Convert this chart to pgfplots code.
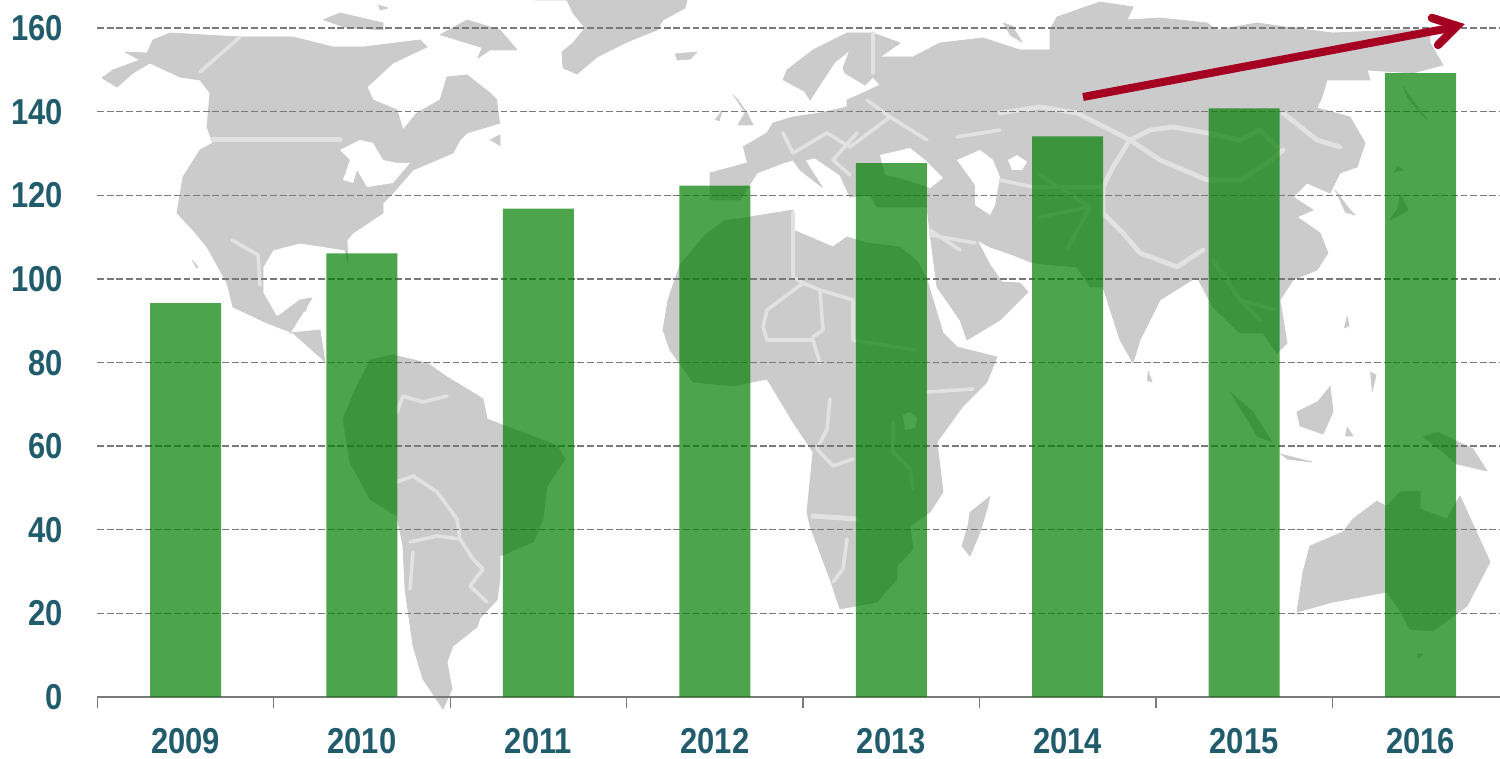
\documentclass[border=0pt]{standalone}
\usepackage{pgfplots}
\pgfplotsset{compat=1.18}
\usepackage{fontspec}
\setmainfont{Liberation Sans}
\newfontfamily\labfont[FakeStretch=0.86]{Liberation Sans Bold}
\definecolor{land}{HTML}{CBCBCB}
\definecolor{bord}{HTML}{E2E2E2}
\definecolor{labc}{HTML}{215C6C}
\definecolor{barc}{HTML}{007F00}
\definecolor{gridc}{HTML}{7A7A7A}
\definecolor{arrowc}{HTML}{A50021}
\pgfplotsset{
  pxaxis/.style={at={(0pt,0pt)},anchor=south west,width=750pt,height=379.5pt,scale only axis,
    xmin=0,xmax=1500,ymin=0,ymax=759,y dir=reverse,hide axis,clip=true},
  L/.style={fill=land,draw=land,line width=0.4pt,line join=round},
  W/.style={fill=white,draw=none},
  B/.style={draw=bord,line width=#1,line join=round,line cap=round,no markers},
  B/.default=1.8pt
}
\begin{document}
\begin{tikzpicture}
\path[use as bounding box] (0,0) rectangle (750pt,379.5pt);
% world map, in pixel coordinates of the picture
\begin{axis}[pxaxis]
% North America
\addplot[L] coordinates {(500,123)(467,133)(460,140)(453,153)(413,170)(393,193)(383,203)(383,213)(353,233)(347,240)(348,263)(345,250)(300,243)(273,250)(263,267)(263,293)(277,317)(300,300)(312,298)(300,317)(290,333)(320,330)(325,362)(320,357)(293,333)(267,323)(233,307)(227,283)(207,247)(193,230)(177,213)(183,177)(200,150)(213,143)(207,127)(210,93)(200,80)(180,77)(150,63)(133,73)(117,87)(102,78)(113,70)(140,60)(125,52)(147,53)(153,40)(170,33)(240,37)(293,37)(333,47)(363,47)(420,40)(427,47)(393,63)(367,87)(373,100)(397,110)(403,130)(417,113)(440,100)(447,77)(467,75)(490,93)(497,100)};
\addplot[W] coordinates {(340,150)(360,140)(373,143)(383,160)(397,163)(410,163)(393,183)(367,187)(357,170)(353,183)(343,180)(350,160)};
\addplot[L] coordinates {(323,20)(340,13)(383,23)(383,30)(343,27)};
\addplot[L] coordinates {(440,35)(467,20)(500,30)(517,50)(490,50)(478,58)(482,48)};
\addplot[L] coordinates {(490,140)(500,135)(500,146)};
\addplot[L] coordinates {(378,5)(388,8)(380,10)};
\addplot[L] coordinates {(300,307)(310,298)(305,312)};
\addplot[L] coordinates {(192,260)(198,267)(196,268)};
% Greenland, Iceland, British Isles
\addplot[L] coordinates {(535,0)(567,0)(573,13)(585,28)(573,43)(562,52)(563,68)(577,74)(597,57)(627,42)(657,30)(663,20)(685,8)(687,0)};
\addplot[L] coordinates {(675,54)(697,52)(690,59)(677,60)};
\addplot[L] coordinates {(733,95)(738,100)(747,113)(753,125)(738,125)(745,113)};
\addplot[L] coordinates {(715,120)(722,111)(719,121)};
% Scandinavia
\addplot[L] coordinates {(783,80)(787,70)(813,50)(847,33)(873,33)(900,43)(880,57)(873,77)(865,85)(845,73)(843,68)(850,50)(835,62)(823,80)(810,100)(805,92)};
% Eurasia
\addplot[L] coordinates {(743,147)(767,133)(773,123)(793,117)(820,113)(847,107)(847,100)(863,93)(880,85)(873,77)(880,57)(913,57)(940,43)(983,38)(1020,50)(1050,50)(1050,30)(1057,17)(1100,2)(1133,7)(1127,20)(1160,18)(1207,23)(1217,30)(1257,23)(1293,28)(1333,33)(1400,30)(1430,30)(1430,43)(1443,65)(1413,73)(1367,70)(1370,80)(1327,80)(1322,97)(1317,108)(1350,117)(1365,143)(1357,167)(1340,173)(1330,193)(1307,183)(1293,197)(1313,210)(1297,217)(1320,233)(1328,253)(1317,270)(1293,280)(1280,300)(1287,343)(1277,353)(1263,333)(1240,333)(1213,307)(1197,277)(1187,283)(1160,300)(1140,340)(1133,363)(1120,340)(1103,287)(1090,287)(1077,267)(1033,263)(1013,255)(990,247)(977,240)(990,265)(1002,282)(1020,283)(1028,292)(1000,320)(967,340)(960,320)(937,287)(930,233)(927,207)(877,207)(870,195)(850,197)(840,175)(815,158)(805,160)(822,187)(800,170)(793,160)(783,163)(757,173)(740,200)(710,200)(710,173)(747,163)};
\addplot[L] coordinates {(1003,23)(1012,26)(1022,42)(1010,35)};
\addplot[L] coordinates {(1335,190)(1350,210)(1355,215)(1345,212)};
\addplot[W] coordinates {(880,155)(910,148)(925,160)(943,178)(930,188)(900,178)(885,175)};
\addplot[W] coordinates {(957,160)(980,150)(993,160)(1000,177)(995,205)(990,215)(975,205)(975,185)};
\addplot[W] coordinates {(1008,160)(1017,155)(1027,162)(1022,170)(1012,170)};
% Africa
\addplot[L] coordinates {(750,217)(793,210)(793,230)(833,247)(847,237)(867,243)(900,247)(918,262)(927,280)(943,333)(957,347)(997,357)(987,382)(963,406)(937,442)(943,492)(930,512)(910,526)(913,549)(897,566)(897,579)(877,602)(840,609)(830,579)(810,526)(807,512)(813,452)(793,422)(767,379)(733,386)(693,382)(670,350)(663,330)(668,300)(680,265)(705,235)(725,220)};
\addplot[L] coordinates {(990,496)(987,509)(980,532)(970,556)(962,546)(968,526)(970,512)};
% South America
\addplot[L] coordinates {(360,379)(343,419)(350,462)(370,499)(397,516)(403,546)(405,589)(413,646)(423,679)(443,709)(452,689)(447,662)(453,646)(477,627)(480,618)(497,600)(500,579)(500,556)(533,542)(543,519)(547,486)(565,459)(557,446)(540,439)(513,429)(487,419)(483,399)(467,389)(447,377)(427,363)(393,355)(370,360)};
% Oceania and Asian islands
\addplot[L] coordinates {(1377,501)(1353,519)(1343,532)(1310,546)(1303,572)(1297,612)(1333,602)(1387,592)(1397,606)(1410,629)(1433,631)(1467,606)(1490,562)(1460,496)(1447,519)(1420,509)(1420,491)(1400,492)(1387,506)};
\addplot[L] coordinates {(1423,437)(1437,432)(1473,449)(1487,471)(1457,464)(1443,452)};
\addplot[L] coordinates {(1330,386)(1333,412)(1323,434)(1300,426)(1297,412)(1317,402)};
\addplot[L] coordinates {(1347,427)(1353,436)(1345,436)};
\addplot[L] coordinates {(1230,392)(1253,412)(1272,442)(1257,436)};
\addplot[L] coordinates {(1280,454)(1312,462)(1287,459)};
\addplot[L] coordinates {(1417,654)(1423,654)(1418,659)};
\addplot[L] coordinates {(1397,166)(1403,170)(1394,172)};
\addplot[L] coordinates {(1400,193)(1408,210)(1390,220)(1397,210)};
\addplot[L] coordinates {(1403,87)(1427,120)(1407,97)};
\addplot[L] coordinates {(1347,316)(1349,326)(1344,328)};
\addplot[L] coordinates {(1148,371)(1152,382)(1147,380)};
\addplot[L] coordinates {(1370,372)(1376,375)(1372,392)};
% Borders
\addplot[B=2.5pt] coordinates {(213,140)(340,140)};
\addplot[B] coordinates {(240,37)(200,72)};
\addplot[B] coordinates {(232,240)(258,255)(260,285)};
\addplot[B] coordinates {(793,213)(793,277)(803,283)(820,290)(853,300)};
\addplot[B] coordinates {(803,283)(767,310)(763,327)(767,340)(813,340)(820,363)};
\addplot[B] coordinates {(820,290)(823,330)(813,337)};
\addplot[B] coordinates {(853,300)(853,340)(915,350)};
\addplot[B] coordinates {(830,399)(827,429)(817,449)(833,466)(853,459)};
\addplot[B=2.5pt] coordinates {(813,516)(857,519)};
\addplot[B] coordinates {(847,539)(843,569)(833,582)};
\addplot[B] coordinates {(893,422)(893,452)(910,469)(913,489)};
\addplot[B] coordinates {(927,392)(973,389)};
\addplot[B] coordinates {(397,412)(403,396)(423,402)(447,396)};
\addplot[B] coordinates {(397,482)(413,476)(437,492)(457,519)(460,539)(473,559)(483,569)(470,586)(487,602)};
\addplot[B] coordinates {(410,542)(437,536)(460,539)};
\addplot[B] coordinates {(413,552)(410,589)};
\addplot[B] coordinates {(793,153)(827,133)(850,147)(890,117)(927,140)};
\addplot[B] coordinates {(867,100)(890,117)};
\addplot[B] coordinates {(857,133)(833,160)(850,175)};
\addplot[B] coordinates {(783,133)(793,153)};
\addplot[B] coordinates {(873,33)(873,73)};
\addplot[B] coordinates {(957,137)(1000,130)};
\addplot[B] coordinates {(930,230)(960,250)};
\addplot[B] coordinates {(930,235)(975,243)};
\addplot[B=2.4pt] coordinates {(1000,113)(1040,107)(1077,113)(1130,140)(1150,130)(1173,127)(1207,133)(1240,140)(1260,130)(1277,147)};
\addplot[B=2.4pt] coordinates {(1283,113)(1317,140)(1340,147)};
\addplot[B=2.4pt] coordinates {(1130,140)(1160,160)(1207,180)(1240,180)(1267,163)(1283,150)};
\addplot[B=2.4pt] coordinates {(1130,140)(1113,167)(1103,187)(1103,213)(1123,233)(1140,253)(1177,267)(1203,250)};
\addplot[B] coordinates {(1000,180)(1033,187)(1073,187)(1103,187)};
\addplot[B] coordinates {(1040,175)(1090,207)(1040,217)};
\addplot[B] coordinates {(1090,207)(1067,250)};
\addplot[B] coordinates {(1213,260)(1240,300)(1260,320)};
\addplot[B] coordinates {(1240,300)(1275,310)};
\addplot[W] coordinates {(903,415)(910,412)(917,418)(915,428)(905,430)};
\end{axis}
% the chart
\begin{axis}[
  at={(48.65pt,31pt)},anchor=south west,
  width=701.35pt,height=334.5pt,scale only axis,
  xmin=-0.5,xmax=7.45,ymin=0,ymax=160,
  axis x line*=bottom,
  axis y line*=left,
  y axis line style={draw=none},
  x axis line style={draw=gridc,line width=0.6pt,-},
  xtick={0,...,7},
  xticklabels={2009,2010,2011,2012,2013,2014,2015,2016},
  minor xtick={-0.5,0.5,...,6.5},
  ytick={0,20,...,160},
  tick align=outside,
  major tick length=0pt,
  minor tick length=5.5pt,
  minor tick style={draw=gridc,line width=0.6pt},
  ymajorgrids,
  grid style={draw=gridc,line width=0.7pt,dash pattern=on 3.4pt off 1.4pt},
  tick label style={font=\labfont\fontsize{18}{18}\selectfont,text=labc,inner sep=0pt,text depth=0pt},
  /pgf/number format/assume math mode=true,
  yticklabel style={xshift=-17pt},
  xticklabel style={yshift=-15.5pt},
  ybar,bar width=35.5pt,
  bar shift=0pt,
  axis on top=false,
  clip=false,
]
\addplot[fill=barc,fill opacity=0.7,draw=none] coordinates {(0,94.2)(1,106.1)(2,116.8)(3,122.3)(4,127.7)(5,134.1)(6,140.8)(7,149.2)};
\end{axis}
% the arrow
\begin{axis}[pxaxis]
\addplot[draw=arrowc,line width=4pt,no markers] coordinates {(1083,97)(1450,28)};
\addplot[draw=arrowc,line width=4.2pt,no markers,line join=miter,line cap=round] coordinates {(1432,18)(1457,26)(1438,45)};
\end{axis}
\end{tikzpicture}
\end{document}
